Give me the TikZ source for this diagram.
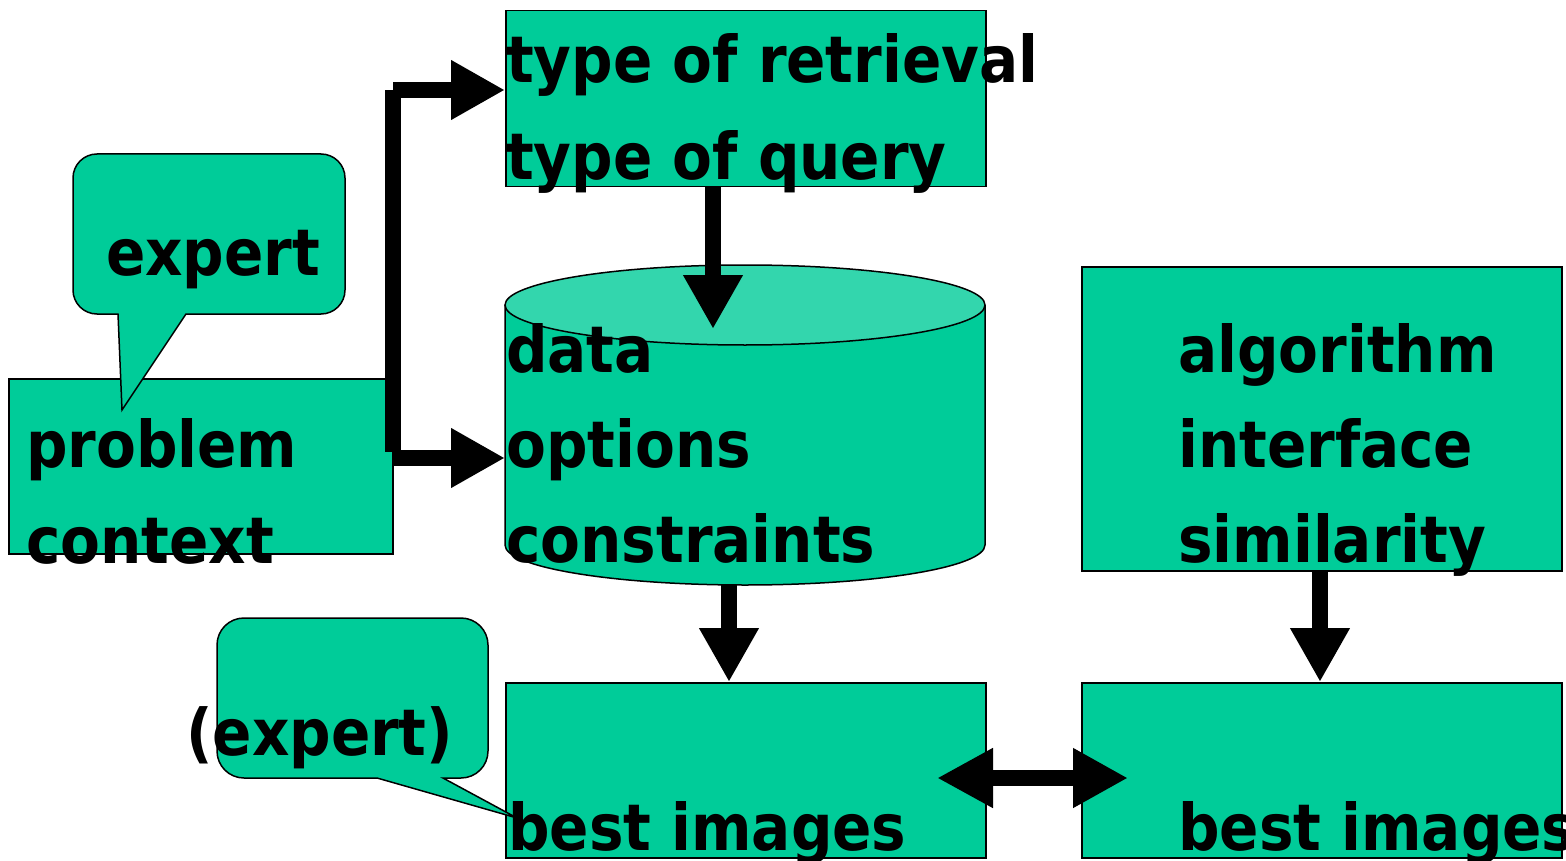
\documentclass[tikz,border=0pt]{standalone}
\usepackage{fontspec}
\newfontfamily\dvc{DejaVu Sans Condensed Bold}
\usetikzlibrary{arrows.meta}
\definecolor{boxgreen}{RGB}{0,204,153}
\definecolor{topgreen}{RGB}{51,214,173}
\begin{document}
\begin{tikzpicture}[x=1pt,y=-1pt,
  box/.style={draw=black, line width=1.5pt, fill=boxgreen},
  rbox/.style={box, inner sep=0pt, anchor=north west},
  txt/.style={anchor=base west, inner sep=0pt, font=\dvc\fontsize{64.5}{64}\selectfont, text=black},
  conn/.style={line width=16pt, -{Triangle[length=54pt,width=56pt]}},
  bar/.style={line width=16pt}]
\useasboundingbox (0,0) rectangle (1566,861);

% boxes
\node[rbox, minimum width=480pt, minimum height=176pt] (query) at (505,10) {};
\node[rbox, minimum width=384pt, minimum height=175pt] (prob) at (8,378) {};
\node[rbox, minimum width=480pt, minimum height=304pt] (algo) at (1081,266) {};
\node[rbox, minimum width=480pt, minimum height=175pt] (bestL) at (505,682) {};
\node[rbox, minimum width=480pt, minimum height=175pt] (bestR) at (1081,682) {};

% cylinder
\node[inner sep=0pt, minimum width=480pt, minimum height=319pt, anchor=north west] (db) at (505,266) {};
\fill[boxgreen] (505,305) -- (505,545) arc[start angle=180, end angle=360, x radius=240pt, y radius=40pt] -- (985,305) -- cycle;
\draw[line width=1.5pt] (505,305) -- (505,545) arc[start angle=180, end angle=360, x radius=240pt, y radius=40pt] -- (985,305);
\draw[line width=1.5pt, fill=topgreen] (745,305) ellipse[x radius=240pt, y radius=40pt];

% callouts
\draw[box] (186,314) -- (321,314) arc[start angle=270, end angle=360, radius=24pt]
  -- (345,178) arc[start angle=0, end angle=90, radius=24pt]
  -- (97,154) arc[start angle=90, end angle=180, radius=24pt]
  -- (73,290) arc[start angle=180, end angle=270, radius=24pt]
  -- (118,314) -- (122,410) -- cycle;
\draw[box] (443,778) -- (461,778) arc[start angle=270, end angle=360, radius=27pt]
  -- (488,645) arc[start angle=0, end angle=90, radius=27pt]
  -- (244,618) arc[start angle=90, end angle=180, radius=27pt]
  -- (217,751) arc[start angle=180, end angle=270, radius=27pt]
  -- (377,778) -- (517,818) -- cycle;

% connectors
\coordinate (jtop) at (393,90);
\coordinate (jbot) at (393,458);
\draw[bar] (jtop) -- (393,452);
\draw[conn] (jtop) -- (jtop -| query.west);
\draw[conn] (jbot) -- (jbot -| db.west);
\coordinate (dbin) at (713,329);
\draw[conn] (dbin |- query.south) -- (dbin);
\coordinate (dbout) at (729,585);
\draw[conn] (dbout) -- (dbout |- bestL.north);
\coordinate (aout) at (1320,570);
\draw[conn] (aout) -- (aout |- bestR.north);
\coordinate (dl) at (937,778);
\coordinate (dr) at (1128,778);
\draw[line width=16pt, {Triangle[length=56pt,width=56pt]}-{Triangle[length=55pt,width=56pt]}] (dl) -- (dr);

% texts
\node[txt] (t1) at (506,83) {type of retrieval};
\node[txt] (t2) at (506,180) {type of query};
\node[txt] (e1) at (106,275) {expert};
\node[txt] (p1) at (26,467) {problem};
\node[txt] (p2) at (26,563) {context};
\node[txt] (d1) at (506,372) {data};
\node[txt] (d2) at (506,467) {options};
\node[txt] (d3) at (506,562) {constraints};
\node[txt] (a1) at (1178,372) {algorithm};
\node[txt] (a2) at (1178,467) {interface};
\node[txt] (a3) at (1178,562) {similarity};
\node[txt] (e2) at (186,755) {(expert)};
\node[txt] (b1) at (508,850) {best images};
\node[txt] (b2) at (1178,850) {best images};
\end{tikzpicture}
\end{document}
